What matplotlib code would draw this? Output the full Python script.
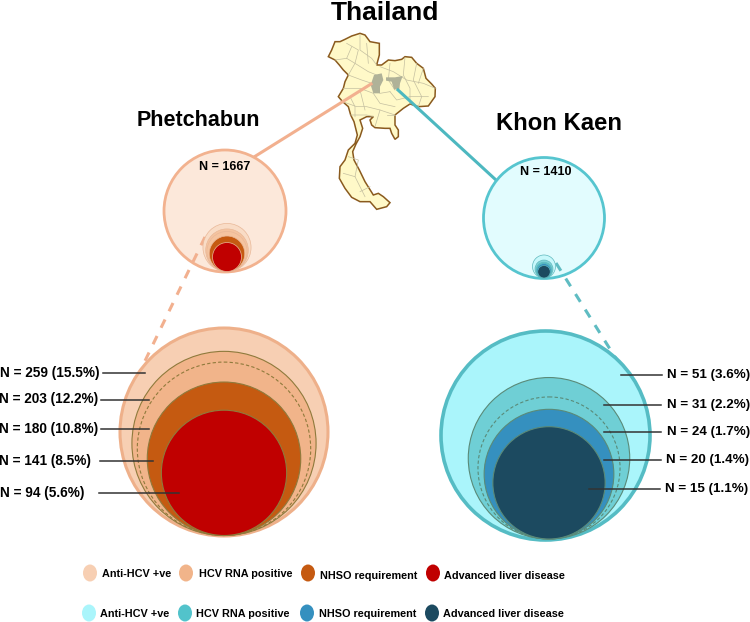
import numpy as np
import matplotlib
matplotlib.use('Agg')
import matplotlib.pyplot as plt
from matplotlib.patches import Circle, Ellipse, Polygon

plt.rcParams['font.family'] = ['Liberation Sans', 'DejaVu Sans']

# Values
left_total = 1667
right_total = 1410
left_n = [259, 203, 180, 141, 94]
left_pct = [15.5, 12.2, 10.8, 8.5, 5.6]
right_n = [51, 31, 24, 20, 15]
right_pct = [3.6, 2.2, 1.7, 1.4, 1.1]
legend_names = ['Anti-HCV +ve', 'HCV RNA positive', 'NHSO requirement', 'Advanced liver disease']

# Country outline and province lines, traced in 3x crop pixels
thai_outline = [(165,125),(180,125),(195,118),(215,108),(240,100),(255,105),(270,125),(298,130),(298,165),(290,195),
                (305,195),(325,180),(345,182),(365,178),(375,170),(395,172),(410,190),(430,205),(438,235),(455,252),
                (466,265),(465,290),(445,318),(415,320),(390,312),(370,325),(345,345),(345,375),(355,390),(355,410),
                (345,418),(335,400),(330,385),(315,385),(285,383),(275,375),(270,360),(280,350),(260,350),(240,360),
                (248,385),(240,410),(228,432),(218,455),(222,480),(238,510),(255,545),(280,585),(295,580),(310,590),
                (330,608),(320,620),(290,628),(270,605),(240,605),(215,592),(195,565),(178,535),(180,500),(195,480),
                (205,450),(225,430),(232,405),(222,365),(212,345),(205,320),(188,305),(175,290),(190,265),(195,245),
                (205,225),(190,210),(178,195),(165,180),(145,170),(155,150)]
thai_lines = [[(200,130),(235,150),(225,190),(205,225)], [(240,105),(240,150),(275,175),(290,195)],
              [(165,180),(200,175),(225,190),(265,215),(290,225)], [(205,225),(245,240),(275,250)],
              [(190,265),(240,265),(280,280),(300,310),(345,320)], [(300,200),(340,215),(380,240),(430,250),(466,265)],
              [(375,172),(370,225),(390,265),(390,312)], [(410,190),(400,240),(425,290),(415,320)],
              [(330,275),(350,300),(390,290),(445,290)], [(188,305),(230,320),(260,320),(300,330),(345,345)],
              [(212,345),(260,345),(280,350)], [(240,270),(255,330)], [(300,330),(285,380)],
              [(205,470),(235,480),(225,530),(255,590)], [(190,520),(225,530)], [(270,560),(240,575)],
              [(215,140),(200,175)], [(260,130),(265,190)], [(330,190),(325,240),(345,270)], [(430,205),(415,250)],
              [(210,290),(225,320),(225,350)], [(320,345),(345,345)], [(300,280),(330,275)]]
phetchabun_area = [(282,225),(305,220),(310,240),(300,260),(300,280),(280,280),(272,255)]
khon_kaen_area = [(318,232),(345,232),(368,228),(360,250),(358,268),(342,268),(335,245),(318,242)]

left_colors = ['#f7cfb3', '#f1b48a', '#f1b48a', '#c55a11', '#c00000']
right_colors = ['#aaf5fb', '#6fcfd5', '#52c3cb', '#3590bf', '#1c4a60']
left_legend = ['#f7cfb3', '#f1b48a', '#c55a11', '#c00000']
right_legend = ['#aaf5fb', '#52c3cb', '#3590bf', '#1c4a60']


def crop_xy(points):
    pts = np.array(points, dtype=float)
    return np.column_stack([pts[:, 0] / 3 + 280, pts[:, 1] / 3])


def nested_circles(ax, values, colors, cx, bottom, scale, edge, dashed=None, lw=0.8):
    # circle area goes with N, all sitting on the same bottom point
    for i, (n, col) in enumerate(zip(values, colors)):
        r = scale * np.sqrt(n)
        if n == dashed:
            ax.add_patch(Circle((cx, bottom - r), r, fc='none', ec=edge, lw=lw, ls=(0, (3, 2)), zorder=3 + i))
        else:
            ax.add_patch(Circle((cx, bottom - r), r, fc=col, ec=edge, lw=lw, zorder=3 + i))


fig = plt.figure(figsize=(7.5, 6.22), dpi=100)
ax = fig.add_axes([0, 0, 1, 1])
ax.set_xlim(0, 750)
ax.set_ylim(622, 0)
ax.axis('off')

# map
ax.add_patch(Polygon(crop_xy(thai_outline), closed=True, fc='#fff9c8', ec='#8a5a1e', lw=1.1, zorder=1))
for seg in thai_lines:
    xy = crop_xy(seg)
    ax.plot(xy[:, 0], xy[:, 1], color='#c4bfa0', lw=0.5, zorder=1.5)
ax.add_patch(Polygon(crop_xy(phetchabun_area), closed=True, fc='#b0b298', ec='none', zorder=1.6))
ax.add_patch(Polygon(crop_xy(khon_kaen_area), closed=True, fc='#b0b298', ec='none', zorder=1.6))

# titles
ax.text(385, 20, 'Thailand', fontsize=19, fontweight='bold', ha='center', va='baseline')
ax.text(198, 121, 'Phetchabun', fontsize=15.5, fontweight='bold', ha='center', va='center')
ax.text(559, 123, 'Khon Kaen', fontsize=17.2, fontweight='bold', ha='center', va='center')

# connector lines
ax.plot([371, 254], [84, 157], color='#f2b08f', lw=2.2, zorder=2)
ax.plot([398, 496], [90, 180], color='#4db8c0', lw=2.2, zorder=2)
ax.plot([205, 143], [237, 365], color='#f2b08f', lw=2.2, ls=(0, (3, 3)), zorder=2.9)
ax.plot([556, 620], [263, 365], color='#5fbcc2', lw=2.2, ls=(0, (3, 3)), zorder=2.9)

# small overview circles
ax.add_patch(Circle((225, 211), 61, fc='#fce8da', ec='#f2b28f', lw=2, zorder=2.5))
ax.add_patch(Circle((544, 218), 60.5, fc='#e2fcfe', ec='#56c5cf', lw=2, zorder=2.5))
nested_circles(ax, left_n, ['#f9dcc6', '#f5c4a0', '#f5c4a0', '#c55a11', '#c00000'], 227, 271.5,
               61 / np.sqrt(left_total), '#e9b898', lw=0.5)
nested_circles(ax, right_n, ['#c8f8fb', '#7fd3d8', '#52c3cb', '#3590bf', '#1c4a60'], 544, 278,
               60.5 / np.sqrt(right_total), '#5fb8bd', lw=0.5)
ax.text(225, 167, f'N = {left_total}', fontsize=9, fontweight='bold', ha='center', va='center', zorder=9)
ax.text(546, 172, f'N = {right_total}', fontsize=9, fontweight='bold', ha='center', va='center', zorder=9)

# big circles
ax.add_patch(Circle((224, 432), 104, fc='#f7cfb3', ec='#eeb08a', lw=2.2, zorder=2.95))
nested_circles(ax, left_n[1:], left_colors[1:], 224, 535.5, 104 / np.sqrt(left_n[0]), '#8f7a3c', dashed=180)
ax.add_patch(Circle((545.5, 435.5), 104.5, fc=right_colors[0], ec='#55bcc4', lw=2.6, zorder=2.95))
nested_circles(ax, right_n[1:], right_colors[1:], 549, 539, 14.5, '#5a8a78', dashed=24)

# leaders and labels
left_y = [373, 400, 429, 461, 493]
left_x0 = [103, 101, 101, 100, 99]
left_x1 = [145, 149, 149, 153, 179]
left_text_x = [99, 98, 98, 91, 84]
for n, pct, y, x0, x1, tx in zip(left_n, left_pct, left_y, left_x0, left_x1, left_text_x):
    ax.plot([x0, x1], [y, y], color='#333333', lw=1.1, zorder=10)
    ax.text(tx, y - 0.5, f'N = {n} ({pct}%)', fontsize=9.8, fontweight='bold', ha='right', va='center', zorder=11)

right_y = [375, 405, 432, 460, 489]
right_x0 = [621, 604, 604, 604, 589]
right_x1 = [662, 661, 661, 661, 660]
right_text_x = [667, 667, 667, 666, 665]
for n, pct, y, x0, x1, tx in zip(right_n, right_pct, right_y, right_x0, right_x1, right_text_x):
    ax.plot([x0, x1], [y, y], color='#333333', lw=1.1, zorder=10)
    ax.text(tx, y, f'N = {n} ({pct}%)', fontsize=9.6, fontweight='bold', ha='left', va='center', zorder=11)

# legend rows
row_y = [573, 613]
dot_x = [[90, 186, 308, 433], [89, 185, 307, 432]]
text_x = [[102, 199, 320, 444], [100, 196, 319, 443]]
for j, cols in enumerate([left_legend, right_legend]):
    for i, name in enumerate(legend_names):
        ax.add_patch(Ellipse((dot_x[j][i], row_y[j]), 14, 17, fc=cols[i], ec='none'))
        dy = 2 if j == 0 and i >= 2 else 0
        ax.text(text_x[j][i], row_y[j] + dy + 1, name, fontsize=7.8, fontweight='bold', ha='left', va='center')

fig.savefig('out.png', dpi=100)
